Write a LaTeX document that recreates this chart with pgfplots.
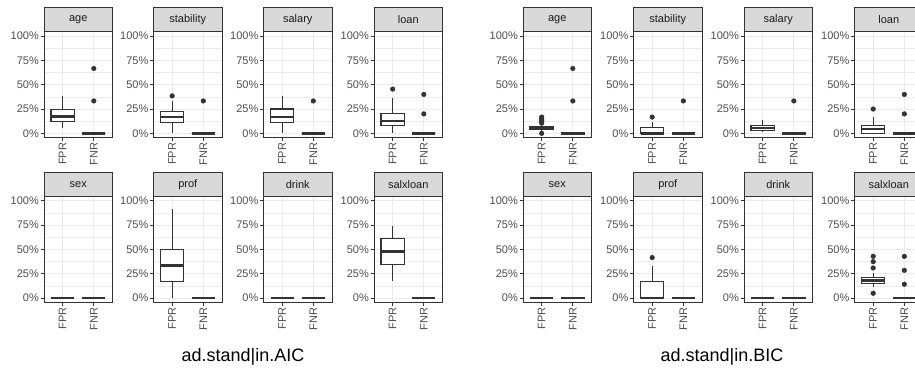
\documentclass[border=0pt]{standalone}
\usepackage{fontspec}
\setmainfont{Liberation Sans}
\usepackage{pgfplots}
\pgfplotsset{compat=1.18}
\definecolor{g10}{HTML}{1A1A1A}
\definecolor{g20}{HTML}{333333}
\definecolor{g30}{HTML}{4D4D4D}
\definecolor{g85}{HTML}{D9D9D9}
\definecolor{g92}{HTML}{EBEBEB}
\pgfplotsset{
  panel/.style={
    scale only axis, width=68.5pt, height=106pt, anchor=north west,
    xmin=0.4, xmax=2.6, ymin=-0.045, ymax=1.045,
    xtick={1,2}, xticklabels={FPR,FNR},
    ytick={0,0.25,0.5,0.75,1}, yticklabels={0\%,25\%,50\%,75\%,100\%},
    minor ytick={0.125,0.375,0.625,0.875},
    grid=both,
    major grid style={g92, line width=1pt},
    minor grid style={g92, line width=0.55pt},
    axis line style={g20, line width=0.9pt},
    tick style={g20, line width=0.9pt},
    major tick length=3.5pt, minor tick length=0pt,
    tick align=outside, tick pos=left,
    ticklabel style={font=\fontsize{11}{13}\selectfont, text=g30, inner sep=1.5pt},
    xticklabel style={rotate=90, anchor=east},
    every axis title/.style={at={(0.5,1)}, anchor=south, fill=g85, draw=g20, line width=0.9pt,
      minimum width=68.5pt, minimum height=23.5pt, inner sep=0pt, text=g10,
      font=\fontsize{11}{13}\selectfont},
  },
  wh/.style={g20, line width=1.1pt},
  bxs/.style={draw=g20, fill=white, line width=1.1pt, line join=miter},
  md/.style={g20, line width=2.6pt},
  ol/.style={only marks, mark=*, mark size=2.3pt, g20, mark options={fill=g20, draw=g20, line width=0.5pt, solid}},
}
\begin{document}
\begin{tikzpicture}
\path[use as bounding box] (0pt,0pt) rectangle (915pt,-375pt);
% ===================== ad.stand|in.AIC =====================
\begin{axis}[panel, at={(44pt,-31.7pt)}, title={age}]
\addplot[wh] coordinates {(1,0.05) (1,0.38)};
\addplot[bxs] coordinates {(0.625,0.125) (1.375,0.125) (1.375,0.244) (0.625,0.244)} -- cycle;
\addplot[md] coordinates {(0.625,0.176) (1.375,0.176)};
\addplot[bxs] coordinates {(1.625,0) (2.375,0) (2.375,0) (1.625,0)} -- cycle;
\addplot[md] coordinates {(1.625,0) (2.375,0)};
\addplot[ol] coordinates {(2,0.333) (2,0.667)};
\end{axis}
\begin{axis}[panel, at={(153.5pt,-31.7pt)}, title={stability}]
\addplot[wh] coordinates {(1,0) (1,0.333)};
\addplot[bxs] coordinates {(0.625,0.111) (1.375,0.111) (1.375,0.222) (0.625,0.222)} -- cycle;
\addplot[md] coordinates {(0.625,0.167) (1.375,0.167)};
\addplot[ol] coordinates {(1,0.385)};
\addplot[bxs] coordinates {(1.625,0) (2.375,0) (2.375,0) (1.625,0)} -- cycle;
\addplot[md] coordinates {(1.625,0) (2.375,0)};
\addplot[ol] coordinates {(2,0.333)};
\end{axis}
\begin{axis}[panel, at={(263.5pt,-31.7pt)}, title={salary}]
\addplot[wh] coordinates {(1,0) (1,0.385)};
\addplot[bxs] coordinates {(0.625,0.111) (1.375,0.111) (1.375,0.25) (0.625,0.25)} -- cycle;
\addplot[md] coordinates {(0.625,0.167) (1.375,0.167)};
\addplot[bxs] coordinates {(1.625,0) (2.375,0) (2.375,0) (1.625,0)} -- cycle;
\addplot[md] coordinates {(1.625,0) (2.375,0)};
\addplot[ol] coordinates {(2,0.333)};
\end{axis}
\begin{axis}[panel, at={(374pt,-31.7pt)}, title={loan}]
\addplot[wh] coordinates {(1,0) (1,0.364)};
\addplot[bxs] coordinates {(0.625,0.083) (1.375,0.083) (1.375,0.2) (0.625,0.2)} -- cycle;
\addplot[md] coordinates {(0.625,0.125) (1.375,0.125)};
\addplot[ol] coordinates {(1,0.455)};
\addplot[bxs] coordinates {(1.625,0) (2.375,0) (2.375,0) (1.625,0)} -- cycle;
\addplot[md] coordinates {(1.625,0) (2.375,0)};
\addplot[ol] coordinates {(2,0.2) (2,0.4)};
\end{axis}
\begin{axis}[panel, at={(44pt,-196.5pt)}, title={sex}]
\addplot[md] coordinates {(0.625,0) (1.375,0)};
\addplot[md] coordinates {(1.625,0) (2.375,0)};
\end{axis}
\begin{axis}[panel, at={(153.5pt,-196.5pt)}, title={prof}]
\addplot[wh] coordinates {(1,0) (1,0.917)};
\addplot[bxs] coordinates {(0.625,0.167) (1.375,0.167) (1.375,0.5) (0.625,0.5)} -- cycle;
\addplot[md] coordinates {(0.625,0.333) (1.375,0.333)};
\addplot[md] coordinates {(1.625,0) (2.375,0)};
\end{axis}
\begin{axis}[panel, at={(263.5pt,-196.5pt)}, title={drink}]
\addplot[md] coordinates {(0.625,0) (1.375,0)};
\addplot[md] coordinates {(1.625,0) (2.375,0)};
\end{axis}
\begin{axis}[panel, at={(374pt,-196.5pt)}, title={salxloan}]
\addplot[wh] coordinates {(1,0.18) (1,0.74)};
\addplot[bxs] coordinates {(0.625,0.35) (1.375,0.35) (1.375,0.61) (0.625,0.61)} -- cycle;
\addplot[md] coordinates {(0.625,0.48) (1.375,0.48)};
\addplot[md] coordinates {(1.625,0) (2.375,0)};
\end{axis}
% ===================== ad.stand|in.BIC =====================
\begin{axis}[panel, at={(523pt,-31.7pt)}, title={age}]
\addplot[wh] coordinates {(1,0.025) (1,0.09)};
\addplot[bxs] coordinates {(0.625,0.04) (1.375,0.04) (1.375,0.067) (0.625,0.067)} -- cycle;
\addplot[md] coordinates {(0.625,0.053) (1.375,0.053)};
\addplot[ol] coordinates {(1,0) (1,0.105) (1,0.118) (1,0.133) (1,0.15) (1,0.167)};
\addplot[md] coordinates {(1.625,0) (2.375,0)};
\addplot[ol] coordinates {(2,0.333) (2,0.667)};
\end{axis}
\begin{axis}[panel, at={(633.5pt,-31.7pt)}, title={stability}]
\addplot[wh] coordinates {(1,0) (1,0.118)};
\addplot[bxs] coordinates {(0.625,0) (1.375,0) (1.375,0.059) (0.625,0.059)} -- cycle;
\addplot[md] coordinates {(0.625,0) (1.375,0)};
\addplot[ol] coordinates {(1,0.167)};
\addplot[md] coordinates {(1.625,0) (2.375,0)};
\addplot[ol] coordinates {(2,0.333)};
\end{axis}
\begin{axis}[panel, at={(744pt,-31.7pt)}, title={salary}]
\addplot[wh] coordinates {(1,0.01) (1,0.138)};
\addplot[bxs] coordinates {(0.625,0.03) (1.375,0.03) (1.375,0.083) (0.625,0.083)} -- cycle;
\addplot[md] coordinates {(0.625,0.056) (1.375,0.056)};
\addplot[md] coordinates {(1.625,0) (2.375,0)};
\addplot[ol] coordinates {(2,0.333)};
\end{axis}
\begin{axis}[panel, at={(854.5pt,-31.7pt)}, title={loan}]
\addplot[wh] coordinates {(1,0) (1,0.167)};
\addplot[bxs] coordinates {(0.625,0) (1.375,0) (1.375,0.083) (0.625,0.083)} -- cycle;
\addplot[md] coordinates {(0.625,0.045) (1.375,0.045)};
\addplot[ol] coordinates {(1,0.25)};
\addplot[md] coordinates {(1.625,0) (2.375,0)};
\addplot[ol] coordinates {(2,0.2) (2,0.4)};
\end{axis}
\begin{axis}[panel, at={(523pt,-196.5pt)}, title={sex}]
\addplot[md] coordinates {(0.625,0) (1.375,0)};
\addplot[md] coordinates {(1.625,0) (2.375,0)};
\end{axis}
\begin{axis}[panel, at={(633.5pt,-196.5pt)}, title={prof}]
\addplot[wh] coordinates {(1,0) (1,0.333)};
\addplot[bxs] coordinates {(0.625,0) (1.375,0) (1.375,0.167) (0.625,0.167)} -- cycle;
\addplot[md] coordinates {(0.625,0) (1.375,0)};
\addplot[ol] coordinates {(1,0.417)};
\addplot[md] coordinates {(1.625,0) (2.375,0)};
\end{axis}
\begin{axis}[panel, at={(744pt,-196.5pt)}, title={drink}]
\addplot[md] coordinates {(0.625,0) (1.375,0)};
\addplot[md] coordinates {(1.625,0) (2.375,0)};
\end{axis}
\begin{axis}[panel, at={(854.5pt,-196.5pt)}, title={salxloan}]
\addplot[wh] coordinates {(1,0.11) (1,0.26)};
\addplot[bxs] coordinates {(0.625,0.15) (1.375,0.15) (1.375,0.21) (0.625,0.21)} -- cycle;
\addplot[md] coordinates {(0.625,0.18) (1.375,0.18)};
\addplot[ol] coordinates {(1,0.05) (1,0.31) (1,0.375) (1,0.43)};
\addplot[md] coordinates {(1.625,0) (2.375,0)};
\addplot[ol] coordinates {(2,0.143) (2,0.286) (2,0.429)};
\end{axis}
\node[font=\fontsize{18}{21}\selectfont] at (243pt,-357pt) {ad.stand|in.AIC};
\node[font=\fontsize{18}{21}\selectfont] at (722pt,-357pt) {ad.stand|in.BIC};
\end{tikzpicture}
\end{document}
